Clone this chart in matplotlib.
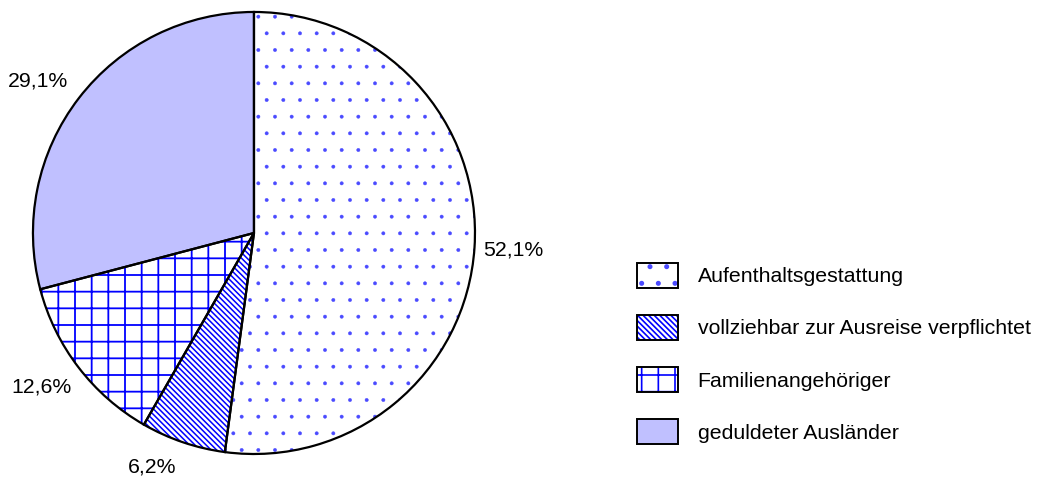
import numpy as np
import matplotlib.pyplot as plt
from matplotlib.patches import Patch
from matplotlib.legend_handler import HandlerTuple

plt.rcParams['font.family'] = ['Liberation Sans', 'DejaVu Sans']
plt.rcParams['hatch.linewidth'] = 1.2

labels = ['Aufenthaltsgestattung', 'vollziehbar zur Ausreise verpflichtet',
          'Familienangehöriger', 'geduldeter Ausländer']
values = [52.1, 6.2, 12.6, 29.1]
hatches = ['.', '\\' * 6, '+', '']
faces = ['white', 'white', 'white', '#c0c0ff']
hatch_cols = ['#4a4aff', 'blue', 'blue', 'blue']
hatch_lw = [0.3, 1.1, 1.3, 1.0]
# label placement: distance from centre (radii) and angle shift (deg)
label_dist = [1.177, 1.157, 1.187, 1.195]
label_shift = [0.0, -4.8, -1.5, 2.5]

fig = plt.figure(figsize=(10.43, 4.79), dpi=100)
ax = fig.add_axes([0.0316, 0.0522, 0.4238, 0.9228])

# fill + blue hatch
wedges, _, autotexts = ax.pie(values, startangle=90, counterclock=False, colors=faces,
                              autopct=lambda p: ('%.1f%%' % p).replace('.', ','),
                              pctdistance=1.0,
                              wedgeprops=dict(linewidth=0))
for w, h, c, lw in zip(wedges, hatches, hatch_cols, hatch_lw):
    w.set_hatch(h)
    w.set_edgecolor(c)
    w.set_linewidth(0)
    if hasattr(w, 'set_hatch_linewidth'):
        w.set_hatch_linewidth(lw)
for w, t, d, s in zip(wedges, autotexts, label_dist, label_shift):
    ang = np.deg2rad((w.theta1 + w.theta2) / 2 + s)
    t.set_position((d * np.cos(ang), d * np.sin(ang)))
    t.set_fontsize(15.3)

# black outlines
outl, _ = ax.pie(values, startangle=90, counterclock=False,
                 wedgeprops=dict(fill=False, edgecolor='black', linewidth=1.6))

ax.set_xlim(-1, 1)
ax.set_ylim(-1, 1)
ax.set_aspect('equal')

handles = []
for f, h, c, lw in zip(faces, hatches, hatch_cols, hatch_lw):
    p1 = Patch(facecolor=f, edgecolor=c, hatch=h, linewidth=0)
    if hasattr(p1, 'set_hatch_linewidth'):
        p1.set_hatch_linewidth(lw)
    p2 = Patch(fill=False, edgecolor='black', linewidth=1.4)
    handles.append((p1, p2))

fig.legend(handles, labels, handler_map={tuple: HandlerTuple(ndivide=1, pad=0)},
           loc='center left', bbox_to_anchor=(0.6107, 0.262), frameon=False,
           fontsize=15.3, handlelength=1.95, handleheight=1.4, handletextpad=0.9,
           labelspacing=1.3, borderpad=0, borderaxespad=0)

fig.savefig('out.png', dpi=100)
